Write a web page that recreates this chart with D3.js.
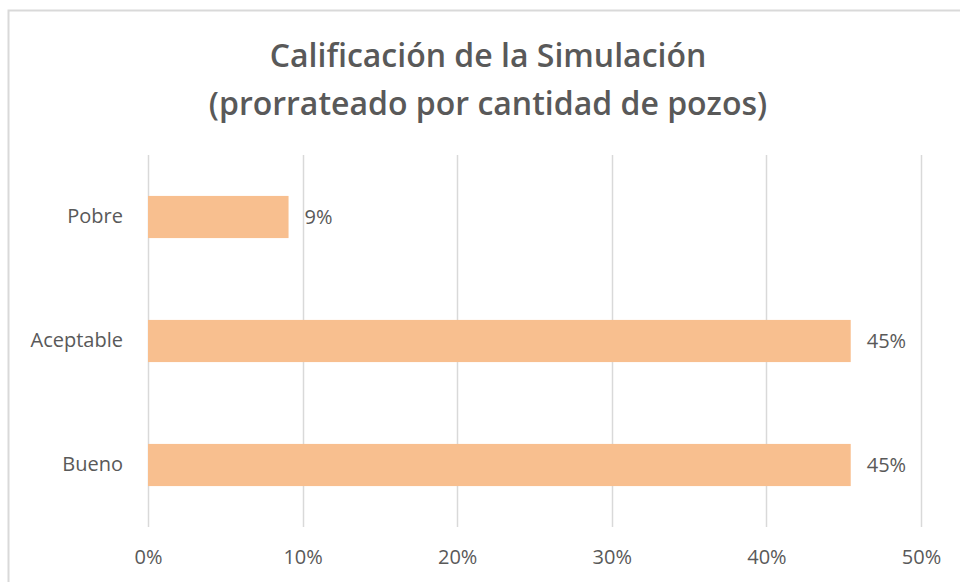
<!DOCTYPE html>
<html>
<head>
<meta charset="utf-8">
<script src="https://cdn.jsdelivr.net/npm/d3@7"></script>
<style>
  body { margin: 0; background: #fff; }
  text { font-family: "Open Sans", "Noto Sans", sans-serif; }
</style>
</head>
<body>
<div id="chart"></div>
<script>
const categories = ["Pobre", "Aceptable", "Bueno"];
const values = [1 / 11, 5 / 11, 5 / 11];
const valueLabels = ["9%", "45%", "45%"];
const xTicks = [0, 0.1, 0.2, 0.3, 0.4, 0.5];
const titleLines = ["Calificación de la Simulación", "(prorrateado por cantidad de pozos)"];

const W = 960, H = 582;
const MARGIN = { TOP: 155, BOTTOM: 55, LEFT: 148, RIGHT: 39 };
const LABEL_SIZE = 20;

const svg = d3.select("#chart")
  .append("svg")
  .attr("width", W)
  .attr("height", H);

// chart area border
svg.append("rect")
  .attr("x", 8.5).attr("y", 10.5)
  .attr("width", W + 10).attr("height", H + 10)
  .attr("fill", "#fff")
  .attr("stroke", "#d9d9d9")
  .attr("stroke-width", 2);

const x = d3.scaleLinear()
  .domain([0, 0.5])
  .range([MARGIN.LEFT, W - MARGIN.RIGHT]);

const y = d3.scaleBand()
  .domain(categories)
  .range([MARGIN.TOP, H - MARGIN.BOTTOM])
  .paddingInner(0.66)
  .paddingOuter(0.33);

// gridlines
svg.append("g")
  .selectAll("line")
  .data(xTicks)
  .join("line")
  .attr("x1", d => Math.round(x(d)) + 0.5)
  .attr("x2", d => Math.round(x(d)) + 0.5)
  .attr("y1", MARGIN.TOP)
  .attr("y2", H - MARGIN.BOTTOM)
  .attr("stroke", "#d9d9d9")
  .attr("stroke-width", 1.5);

// x axis labels
const xAxis = d3.axisBottom(x)
  .tickValues(xTicks)
  .tickFormat(d3.format(".0%"))
  .tickSize(0)
  .tickPadding(23);

svg.append("g")
  .attr("transform", `translate(0,${H - MARGIN.BOTTOM})`)
  .call(xAxis)
  .call(g => g.select(".domain").remove())
  .selectAll("text")
  .attr("fill", "#595959")
  .attr("font-size", LABEL_SIZE)
  .attr("font-family", "Open Sans, Noto Sans, sans-serif");

// y axis labels
const yAxis = d3.axisLeft(y).tickSize(0).tickPadding(25);

svg.append("g")
  .attr("transform", `translate(${MARGIN.LEFT},0)`)
  .call(yAxis)
  .call(g => g.select(".domain").remove())
  .selectAll("text")
  .attr("fill", "#595959")
  .attr("font-size", LABEL_SIZE)
  .attr("font-family", "Open Sans, Noto Sans, sans-serif");

// bars
svg.append("g")
  .selectAll("rect")
  .data(categories)
  .join("rect")
  .attr("x", x(0))
  .attr("y", d => y(d))
  .attr("width", (d, i) => x(values[i]) - x(0))
  .attr("height", y.bandwidth())
  .attr("fill", "#f8bf8f");

// value labels
svg.append("g")
  .selectAll("text")
  .data(categories)
  .join("text")
  .attr("x", (d, i) => x(values[i]) + 16)
  .attr("y", d => y(d) + y.bandwidth() / 2)
  .attr("dy", "0.35em")
  .attr("fill", "#595959")
  .attr("font-size", LABEL_SIZE)
  .text((d, i) => valueLabels[i]);

// title
svg.append("g")
  .selectAll("text")
  .data(titleLines)
  .join("text")
  .attr("x", 488)
  .attr("y", (d, i) => 67 + i * 48)
  .attr("text-anchor", "middle")
  .attr("fill", "#595959")
  .attr("font-size", 32)
  .attr("font-weight", 600)
  .text(d => d);
</script>
</body>
</html>
